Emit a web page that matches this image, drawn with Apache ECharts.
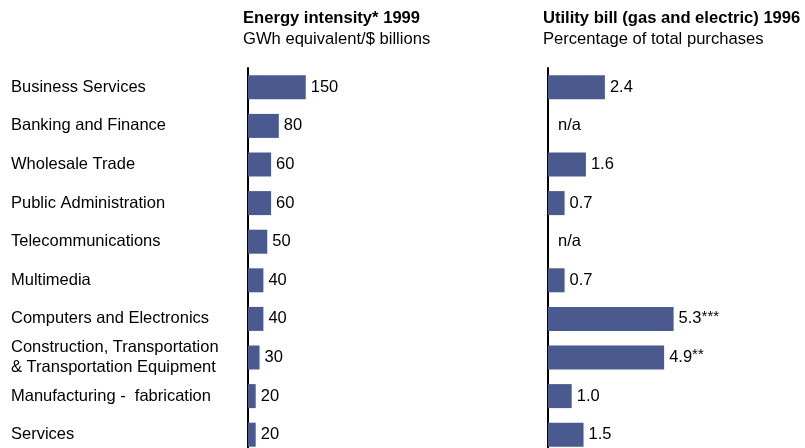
<!DOCTYPE html>
<html>
<head>
<meta charset="utf-8">
<script src="https://cdn.jsdelivr.net/npm/echarts@6/dist/echarts.min.js"></script>
<style>
  html, body { margin: 0; padding: 0; background: #fff; }
  #chart { width: 805px; height: 448px; }
</style>
</head>
<body>
<div id="chart"></div>
<script>
// * two horizontal bar panels sharing the same industry list
const industries = [
  'Business Services',
  'Banking and Finance',
  'Wholesale Trade',
  'Public Administration',
  'Telecommunications',
  'Multimedia',
  'Computers and Electronics',
  'Construction, Transportation\n& Transportation Equipment',
  'Manufacturing -  fabrication',
  'Services'
]
// GWh equivalent / $ billions, 1999
const energyIntensity = [150, 80, 60, 60, 50, 40, 40, 30, 20, 20]
// % of total purchases, 1996 (null = n/a)
const utilityBill = [2.4, null, 1.6, 0.7, null, 0.7, 5.3, 4.9, 1.0, 1.5]
const utilityNotes = ['', '', '', '', '', '', '***', '**', '', '']

const font = 'Liberation Sans, Arial, sans-serif'
const barColor = '#4a5a8e'

const chart = echarts.init(document.getElementById('chart'))

const option = {
  animation: false,
  textStyle: { fontFamily: font },
  title: [
    {
      text: 'Energy intensity* 1999',
      subtext: 'GWh equivalent/$ billions',
      left: 238,
      top: 5,
      itemGap: 4,
      textStyle: { fontFamily: font, fontSize: 16.6, fontWeight: 'bold', color: '#000' },
      subtextStyle: { fontFamily: font, fontSize: 16.6, color: '#000' }
    },
    {
      text: 'Utility bill (gas and electric) 1996',
      subtext: 'Percentage of total purchases',
      left: 538,
      top: 5,
      itemGap: 4,
      textStyle: { fontFamily: font, fontSize: 16.6, fontWeight: 'bold', color: '#000' },
      subtextStyle: { fontFamily: font, fontSize: 16.6, color: '#000' }
    }
  ],
  grid: [
    { left: 248, top: 68, width: 77, height: 386, outerBoundsMode: 'none' },
    { left: 548, top: 68, width: 237, height: 386, outerBoundsMode: 'none' }
  ],
  xAxis: [
    { gridIndex: 0, type: 'value', min: 0, max: 200, show: false },
    { gridIndex: 1, type: 'value', min: 0, max: 10, show: false }
  ],
  yAxis: [
    {
      gridIndex: 0,
      type: 'category',
      inverse: true,
      data: industries,
      axisLine: { lineStyle: { color: '#000', width: 2 } },
      axisTick: { show: false },
      axisLabel: {
        align: 'left',
        margin: 237,
        fontSize: 16.5,
        lineHeight: 20,
        color: '#000',
        fontFamily: font
      }
    },
    {
      gridIndex: 1,
      type: 'category',
      inverse: true,
      data: industries,
      axisLine: { lineStyle: { color: '#000', width: 2 } },
      axisTick: { show: false },
      axisLabel: { show: false }
    }
  ],
  series: [
    {
      type: 'bar',
      xAxisIndex: 0,
      yAxisIndex: 0,
      data: energyIntensity,
      barWidth: 24,
      itemStyle: { color: barColor },
      label: {
        show: true,
        position: 'right',
        distance: 5,
        fontSize: 16.5,
        color: '#000',
        fontFamily: font
      }
    },
    {
      type: 'bar',
      xAxisIndex: 1,
      yAxisIndex: 1,
      data: utilityBill.map((v, i) => v === null
        ? { value: 0, na: true, label: { distance: 10 } }
        : { value: v, note: utilityNotes[i] }),
      barWidth: 24,
      itemStyle: { color: barColor },
      label: {
        show: true,
        position: 'right',
        distance: 5,
        fontSize: 16.5,
        color: '#000',
        fontFamily: font,
        formatter: function (p) {
          if (p.data.na) return 'n/a'
          return p.value.toFixed(1) + '{s|' + p.data.note + '}'
        },
        rich: {
          s: { fontSize: 15, verticalAlign: 'top', color: '#000', fontFamily: font, padding: [0, 0, 5, 0] }
        }
      }
    }
  ]
}

chart.setOption(option)
</script>
</body>
</html>
